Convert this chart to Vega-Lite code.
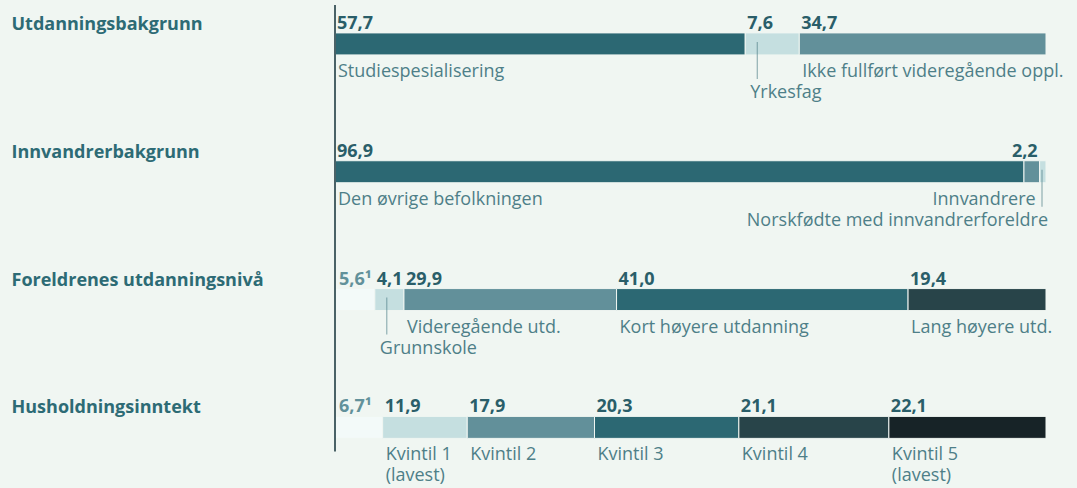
{
  "$schema": "https://vega.github.io/schema/vega-lite/v6.json",
  "width": 711,
  "height": 488,
  "autosize": {"type": "none"},
  "padding": {"left": 335, "top": 0, "right": 31, "bottom": 0},
  "background": "#f0f6f2",
  "config": {
    "view": {"stroke": null},
    "font": "Open Sans",
    "text": {"font": "Open Sans", "fontSize": 18, "lineHeight": 21}
  },
  "data": {
    "values": [
      {"group": "Utdanningsbakgrunn", "order": 1, "value": 57.7, "vlab": "57,7", "name": "Studiespesialisering", "place": "a"},
      {"group": "Utdanningsbakgrunn", "order": 2, "value": 7.6, "vlab": "7,6", "name": "Yrkesfag", "place": "b"},
      {"group": "Utdanningsbakgrunn", "order": 3, "value": 34.7, "vlab": "34,7", "name": "Ikke fullført videregående oppl.", "place": "a"},
      {"group": "Innvandrerbakgrunn", "order": 1, "value": 96.9, "vlab": "96,9", "name": "Den øvrige befolkningen", "place": "a"},
      {"group": "Innvandrerbakgrunn", "order": 2, "value": 2.2, "vlab": "2,2", "name": "Innvandrere", "place": "r1"},
      {"group": "Innvandrerbakgrunn", "order": 3, "value": 0.9, "vlab": "", "name": "Norskfødte med innvandrerforeldre", "place": "r2"},
      {"group": "Foreldrenes utdanningsnivå", "order": 1, "value": 5.6, "vlab": "5,6¹", "name": "Ukjent", "place": "n"},
      {"group": "Foreldrenes utdanningsnivå", "order": 2, "value": 4.1, "vlab": "4,1", "name": "Grunnskole", "place": "b"},
      {"group": "Foreldrenes utdanningsnivå", "order": 3, "value": 29.9, "vlab": "29,9", "name": "Videregående utd.", "place": "a"},
      {"group": "Foreldrenes utdanningsnivå", "order": 4, "value": 41.0, "vlab": "41,0", "name": "Kort høyere utdanning", "place": "a"},
      {"group": "Foreldrenes utdanningsnivå", "order": 5, "value": 19.4, "vlab": "19,4", "name": "Lang høyere utd.", "place": "a"},
      {"group": "Husholdningsinntekt", "order": 1, "value": 6.7, "vlab": "6,7¹", "name": "Ukjent", "place": "n"},
      {"group": "Husholdningsinntekt", "order": 2, "value": 11.9, "vlab": "11,9", "name": "Kvintil 1\n(lavest)", "place": "a"},
      {"group": "Husholdningsinntekt", "order": 3, "value": 17.9, "vlab": "17,9", "name": "Kvintil 2", "place": "a"},
      {"group": "Husholdningsinntekt", "order": 4, "value": 20.3, "vlab": "20,3", "name": "Kvintil 3", "place": "a"},
      {"group": "Husholdningsinntekt", "order": 5, "value": 21.1, "vlab": "21,1", "name": "Kvintil 4", "place": "a"},
      {"group": "Husholdningsinntekt", "order": 6, "value": 22.1, "vlab": "22,1", "name": "Kvintil 5\n(lavest)", "place": "a"}
    ]
  },
  "transform": [
    {"stack": "value", "groupby": ["group"], "sort": [{"field": "order", "order": "ascending"}], "as": ["x0", "x1"]}
  ],
  "layer": [
    {
      "mark": {"type": "bar", "size": 22, "stroke": "#f0f6f2", "strokeWidth": 1},
      "encoding": {
        "y": {
          "field": "group", "type": "nominal",
          "scale": {
            "domain": ["Utdanningsbakgrunn", "Innvandrerbakgrunn", "Foreldrenes utdanningsnivå", "Husholdningsinntekt"],
            "range": [-20, 491.3], "paddingInner": 0, "paddingOuter": 0
          },
          "axis": {
            "title": null, "ticks": false, "domain": false,
            "labelAlign": "left", "labelBaseline": "alphabetic",
            "labelPadding": 324, "labelOffset": -14,
            "labelFont": "Open Sans", "labelFontSize": 18, "labelFontWeight": "bold",
            "labelColor": "#2d6b75", "labelLimit": 0
          }
        },
        "x": {"field": "x0", "type": "quantitative", "scale": {"domain": [0, 100], "nice": false}, "axis": null},
        "x2": {"field": "x1"},
        "color": {
          "field": "name", "type": "nominal", "legend": null,
          "scale": {
            "domain": ["Studiespesialisering", "Yrkesfag", "Ikke fullført videregående oppl.", "Den øvrige befolkningen", "Innvandrere", "Norskfødte med innvandrerforeldre", "Ukjent", "Grunnskole", "Videregående utd.", "Kort høyere utdanning", "Lang høyere utd.", "Kvintil 1\n(lavest)", "Kvintil 2", "Kvintil 3", "Kvintil 4", "Kvintil 5\n(lavest)"],
            "range": ["#2c6873", "#c5dfe0", "#62909a", "#2c6873", "#62909a", "#c5dfe0", "#f3faf9", "#c5dfe0", "#62909a", "#2c6873", "#284449", "#c5dfe0", "#62909a", "#2c6873", "#284449", "#172327"]
          }
        }
      }
    },
    {
      "data": {"values": [{}]},
      "mark": {"type": "rule", "color": "#4a6267", "strokeWidth": 2, "yOffset": -39, "y2Offset": 24},
      "encoding": {
        "x": {"datum": 0, "type": "quantitative"},
        "y": {"datum": "Utdanningsbakgrunn", "type": "nominal"},
        "y2": {"datum": "Husholdningsinntekt"}
      }
    },
    {
      "transform": [{"filter": "datum.place == 'b'"}],
      "mark": {"type": "tick", "color": "#4e7f88", "thickness": 1, "size": 37, "yOffset": 16.5, "xOffset": 12},
      "encoding": {
        "x": {"field": "x0", "type": "quantitative"},
        "y": {"field": "group", "type": "nominal"}
      }
    },
    {
      "transform": [{"filter": "datum.place == 'r2'"}],
      "mark": {"type": "tick", "color": "#4e7f88", "thickness": 1, "size": 37, "yOffset": 16.5, "xOffset": -4},
      "encoding": {
        "x": {"field": "x1", "type": "quantitative"},
        "y": {"field": "group", "type": "nominal"}
      }
    },
    {
      "transform": [{"filter": "datum.place == 'a' || datum.place == 'b'"}],
      "mark": {"type": "text", "align": "left", "baseline": "alphabetic", "dx": 2, "dy": -15, "fontWeight": "bold", "color": "#2a5e69"},
      "encoding": {
        "x": {"field": "x0", "type": "quantitative"},
        "y": {"field": "group", "type": "nominal"},
        "text": {"field": "vlab"}
      }
    },
    {
      "transform": [{"filter": "datum.place == 'n'"}],
      "mark": {"type": "text", "align": "left", "baseline": "alphabetic", "dx": 4, "dy": -15, "fontWeight": "bold", "color": "#62919a"},
      "encoding": {
        "x": {"field": "x0", "type": "quantitative"},
        "y": {"field": "group", "type": "nominal"},
        "text": {"field": "vlab"}
      }
    },
    {
      "transform": [{"filter": "datum.place == 'r1'"}],
      "mark": {"type": "text", "align": "right", "baseline": "alphabetic", "dx": -2, "dy": -15, "fontWeight": "bold", "color": "#2a5e69"},
      "encoding": {
        "x": {"field": "x1", "type": "quantitative"},
        "y": {"field": "group", "type": "nominal"},
        "text": {"field": "vlab"}
      }
    },
    {
      "transform": [{"filter": "datum.place == 'a'"}],
      "mark": {"type": "text", "align": "left", "baseline": "alphabetic", "dx": 3, "dy": 33, "color": "#4e7f88", "lineBreak": "\n", "lineHeight": 21},
      "encoding": {
        "x": {"field": "x0", "type": "quantitative"},
        "y": {"field": "group", "type": "nominal"},
        "text": {"field": "name"}
      }
    },
    {
      "transform": [{"filter": "datum.place == 'b'"}],
      "mark": {"type": "text", "align": "left", "baseline": "alphabetic", "dx": 5, "dy": 54, "color": "#4e7f88"},
      "encoding": {
        "x": {"field": "x0", "type": "quantitative"},
        "y": {"field": "group", "type": "nominal"},
        "text": {"field": "name"}
      }
    },
    {
      "transform": [{"filter": "datum.place == 'r1'"}],
      "mark": {"type": "text", "align": "right", "baseline": "alphabetic", "dx": -4, "dy": 33, "color": "#4e7f88"},
      "encoding": {
        "x": {"field": "x1", "type": "quantitative"},
        "y": {"field": "group", "type": "nominal"},
        "text": {"field": "name"}
      }
    },
    {
      "transform": [{"filter": "datum.place == 'r2'"}],
      "mark": {"type": "text", "align": "right", "baseline": "alphabetic", "dx": 2, "dy": 54, "color": "#4e7f88"},
      "encoding": {
        "x": {"field": "x1", "type": "quantitative"},
        "y": {"field": "group", "type": "nominal"},
        "text": {"field": "name"}
      }
    }
  ]
}
